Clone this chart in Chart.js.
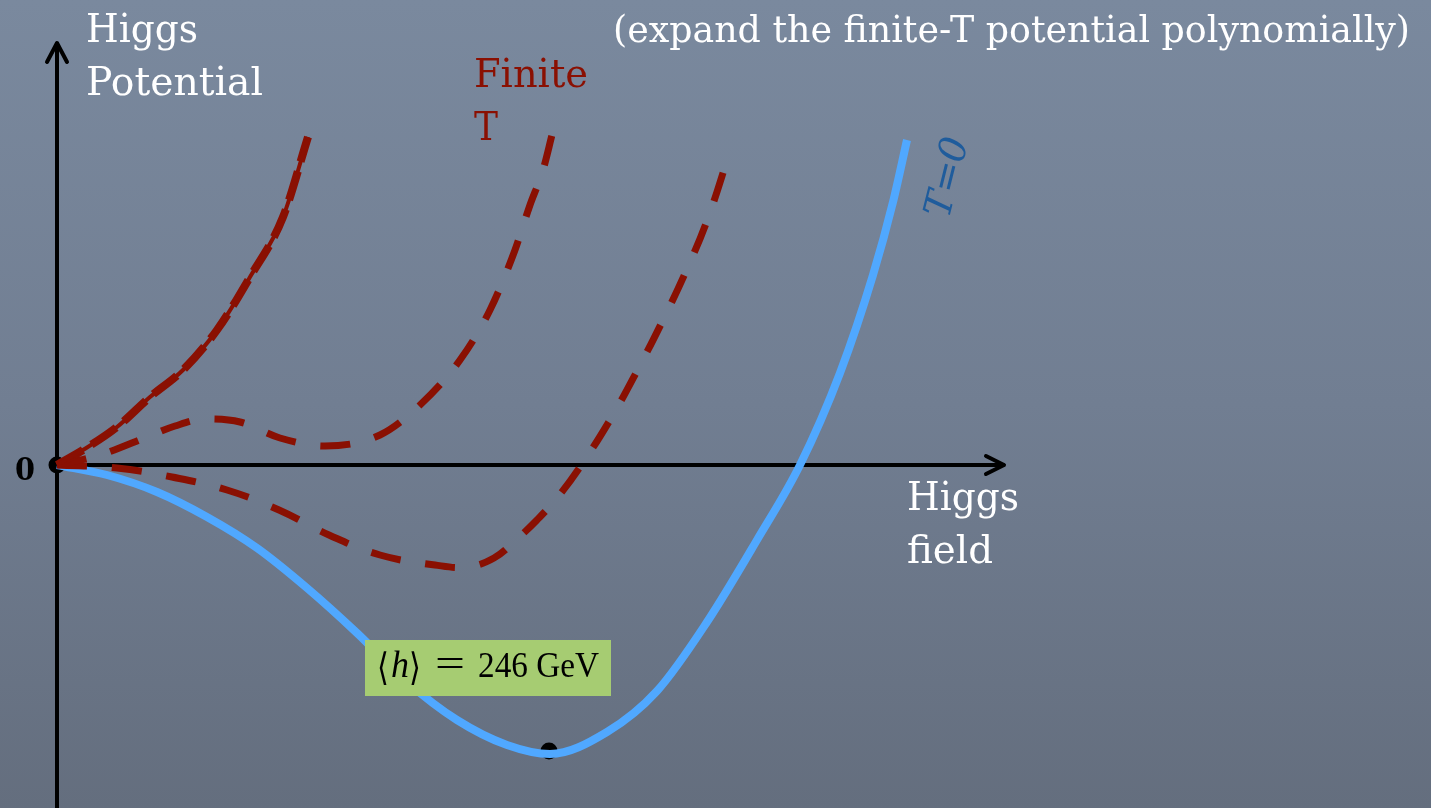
<!DOCTYPE html>
<html>
<head>
<meta charset="utf-8">
<script src="https://cdn.jsdelivr.net/npm/chart.js@4.4.1/dist/chart.umd.min.js"></script>
<style>
  html, body { margin: 0; padding: 0; }
  body { background: linear-gradient(to bottom, #7a899e 0%, #717e92 50%, #646e7e 100%); width: 1431px; height: 808px; overflow: hidden; }
  #wrap { position: relative; width: 1431px; height: 808px; }
</style>
</head>
<body>
<div id="wrap"><canvas id="myChart"></canvas></div>
<script>
// Higgs field (x) and potential (y), origin at 0
const zeroX = [0, 50, 100, 150, 200, 250, 300, 350, 400, 450, 493, 550, 600, 650, 700, 743, 783, 816, 836, 850];
const zeroY = [0, -10, -27, -52, -83, -123, -168, -217, -255, -280, -289, -267, -226, -157, -75, 0, 92, 190, 263, 325];

const hotX = [0, 26, 60, 93, 126, 160, 193, 226, 251];
const hotY = [0, 15, 38, 68, 95, 135, 188, 248, 328];

const midX = [0, 43, 90, 118, 148, 183, 223, 268, 323, 363, 403, 433, 458, 473, 486, 495];
const midY = [0, 10, 28, 39, 46, 43, 27, 19, 30, 60, 105, 155, 215, 260, 295, 330];

const lowX = [0, 60, 115, 170, 222, 272, 323, 378, 410, 437, 460, 480, 500, 523, 553, 580, 606, 630, 651, 673];
const lowY = [0, -3, -12, -25, -45, -70, -90, -100, -102, -93, -74, -55, -33, -2, 45, 94, 145, 196, 247, 314];

const vevPoint = { x: 492, y: -286 };
const vevValue = '246 GeV';

const red = 'rgb(138, 16, 2)';
const blue = 'rgb(80, 168, 255)';

function toPoints(xs, ys) {
    return xs.map((x, i) => ({ x: x, y: ys[i] }));
}

const SERIF = '"DejaVu Serif", "Liberation Serif", serif';
const TIMES = '"Liberation Serif", serif';

// draw text stretched to a target width
function fitText(ctx, text, x, y, width, size, style, family) {
    ctx.font = (style || '') + ' ' + size + 'px ' + (family || SERIF);
    const w = ctx.measureText(text).width;
    ctx.save();
    ctx.translate(x, y);
    ctx.scale(width / w, 1);
    ctx.fillText(text, 0, 0);
    ctx.restore();
}

// axes, arrows and text
const decorPlugin = {
    id: 'decor',
    beforeDatasetsDraw(chart) {
        const ctx = chart.ctx;
        const xs = chart.scales.x, ys = chart.scales.y;
        const ox = xs.getPixelForValue(0), oy = ys.getPixelForValue(0);
        ctx.save();
        ctx.strokeStyle = '#000';
        ctx.lineWidth = 4;
        ctx.lineCap = 'round';
        ctx.lineJoin = 'round';
        // y axis
        ctx.beginPath();
        ctx.moveTo(ox, 808);
        ctx.lineTo(ox, 44);
        ctx.stroke();
        ctx.beginPath();
        ctx.moveTo(ox - 10, 62);
        ctx.lineTo(ox, 43);
        ctx.lineTo(ox + 10, 62);
        ctx.stroke();
        // x axis
        ctx.beginPath();
        ctx.moveTo(ox, oy);
        ctx.lineTo(1003, oy);
        ctx.stroke();
        ctx.beginPath();
        ctx.moveTo(986, oy - 9);
        ctx.lineTo(1004, oy);
        ctx.lineTo(986, oy + 9);
        ctx.stroke();
        ctx.restore();
    },
    afterDatasetsDraw(chart) {
        const ctx = chart.ctx;
        ctx.save();
        ctx.textBaseline = 'alphabetic';
        ctx.textAlign = 'left';
        ctx.fillStyle = '#ffffff';
        fitText(ctx, 'Higgs', 86, 42, 112, 40);
        fitText(ctx, 'Potential', 86, 95, 177, 40);
        fitText(ctx, 'Higgs', 907, 510, 112, 40);
        fitText(ctx, 'field', 907, 563, 86, 40);
        fitText(ctx, '(expand the finite-T potential polynomially)', 613, 42, 797, 38);
        ctx.fillStyle = red;
        fitText(ctx, 'Finite', 474, 87, 114, 40);
        fitText(ctx, 'T', 474, 140, 24, 40);
        ctx.fillStyle = '#000';
        fitText(ctx, '0', 15, 480, 20, 32, 'bold');
        // T=0 label, rotated
        ctx.save();
        ctx.translate(946, 177);
        ctx.rotate(-76 * Math.PI / 180);
        ctx.fillStyle = '#1f5c9c';
        ctx.font = 'italic 38px ' + SERIF;
        ctx.textAlign = 'center';
        ctx.fillText('T=0', 0, 13);
        ctx.restore();
        // vev box
        ctx.fillStyle = '#a6cc72';
        ctx.fillRect(365, 640, 246, 56);
        ctx.fillStyle = '#000';
        fitText(ctx, '\u27E8', 377, 680, 12, 38, '', TIMES);
        fitText(ctx, 'h', 391, 677, 18, 37, 'italic', TIMES);
        fitText(ctx, '\u27E9', 409, 680, 12, 38, '', TIMES);
        fitText(ctx, '=', 435, 677, 30, 40, '', TIMES);
        fitText(ctx, vevValue, 478, 677, 121, 36, '', TIMES);
        ctx.restore();
    }
};

function createChart() {
    const ctx = document.getElementById('myChart').getContext('2d');
    const dashed = {
        borderColor: red,
        borderWidth: 7,
        borderDash: [30, 25],
        borderCapStyle: 'butt',
        pointRadius: 0,
        fill: false,
        cubicInterpolationMode: 'monotone'
    };
    new Chart(ctx, {
        type: 'line',
        data: {
            datasets: [
                Object.assign({}, dashed, { label: 'Finite T (high)', data: toPoints(hotX, hotY), borderWidth: 4, borderDash: [] }),
                Object.assign({}, dashed, { label: 'Finite T (high)', data: toPoints(hotX, hotY), borderWidth: 8, borderDash: [30, 10] }),
                Object.assign({}, dashed, { label: 'Finite T (mid)', data: toPoints(midX, midY) }),
                Object.assign({}, dashed, { label: 'Finite T (low)', data: toPoints(lowX, lowY), cubicInterpolationMode: 'default', tension: 0.4 }),
                {
                    label: 'T=0',
                    data: toPoints(zeroX, zeroY),
                    borderColor: blue,
                    borderWidth: 8,
                    pointRadius: 0,
                    fill: false,
                    cubicInterpolationMode: 'monotone'
                },
                {
                    label: 'points',
                    data: [{ x: 0, y: 0 }, vevPoint],
                    showLine: false,
                    pointRadius: 8.5,
                    pointBackgroundColor: '#000',
                    pointBorderWidth: 0
                }
            ]
        },
        options: {
            responsive: true,
            maintainAspectRatio: false,
            animation: false,
            layout: { padding: 0, autoPadding: false },
            plugins: {
                legend: { display: false },
                tooltip: { enabled: false }
            },
            scales: {
                x: { type: 'linear', min: -57, max: 1374, display: false },
                y: { type: 'linear', min: -343, max: 465, display: false }
            }
        },
        plugins: [decorPlugin]
    });
}

document.addEventListener('DOMContentLoaded', function () {
    createChart();
});
</script>
</body>
</html>
